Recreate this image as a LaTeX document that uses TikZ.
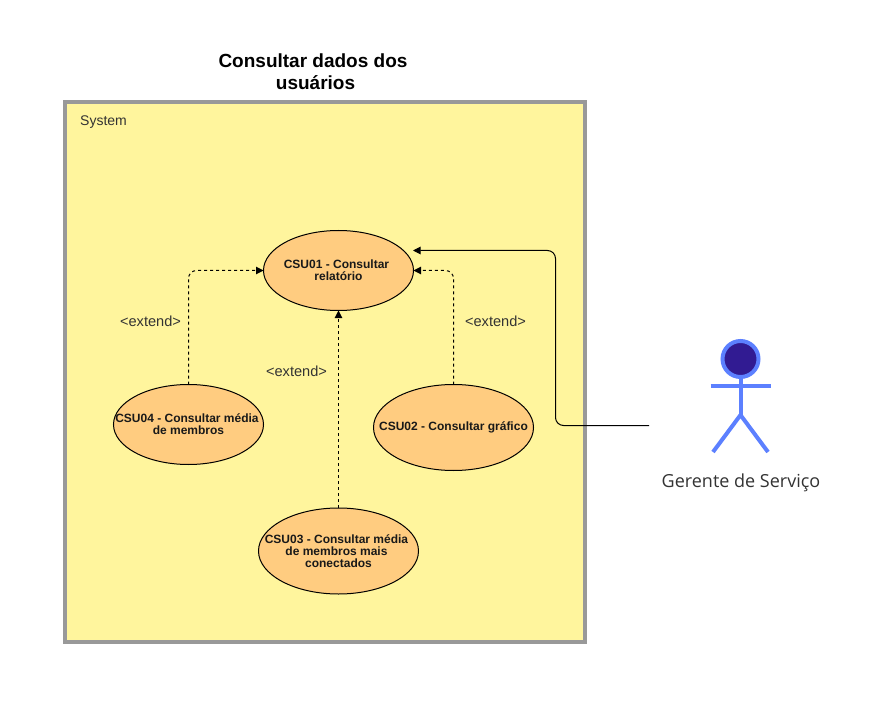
\documentclass[tikz,border=0pt]{standalone}
\usepackage{fontspec}
\setmainfont{Liberation Sans}
\newfontfamily\actorfont{Open Sans}
\usetikzlibrary{arrows.meta,shapes.geometric}
\definecolor{boxgray}{HTML}{999999}
\definecolor{boxfill}{HTML}{FFF59D}
\definecolor{ucfill}{HTML}{FFCC80}
\definecolor{actorline}{HTML}{5C80FF}
\definecolor{actorhead}{HTML}{311B92}
\definecolor{txt}{HTML}{333333}
\newcommand{\trailgap}[1]{\hbox to #1{}}
\tikzset{
  ucase/.style={ellipse,draw=black,line width=1pt,fill=ucfill,inner sep=0pt,outer sep=0pt},
  uctext/.style={font=\fontsize{12}{12}\selectfont\bfseries,align=center,text=black!90,inner sep=0pt},
  extlabel/.style={font=\fontsize{14.6}{14.6}\selectfont,text=txt,inner sep=0pt},
  extendline/.style={draw=black,line width=1pt,dash pattern=on 3pt off 3pt,rounded corners=8pt,-{Triangle[length=7.5pt,width=7.5pt]}},
  assocline/.style={draw=black,line width=1pt,rounded corners=8pt,-{Triangle[length=7.5pt,width=7.5pt]}},
  actorstroke/.style={draw=actorline,line width=4pt},
}
\begin{document}
\begin{tikzpicture}[x=1pt,y=-1pt]
\useasboundingbox (0,0) rectangle (886,703);
\fill[white] (0,0) rectangle (886,703);
\node[draw=boxgray,line width=4pt,fill=boxfill,minimum width=520pt,minimum height=540pt,inner sep=0pt,outer sep=0pt] (sys) at (325,372) {};
\node[font=\fontsize{19}{22}\selectfont\bfseries,align=center,text=black,inner sep=0pt] (title) at (315.5,72) {Consultar dados dos\trailgap{5pt}\\usuários};
\node[font=\fontsize{14}{14}\selectfont,text=txt,inner sep=0pt,anchor=base west] (systext) at (80,126) {System};
\node[ucase,minimum width=150pt,minimum height=80pt,label={[uctext]center:CSU01 - Consultar\trailgap{4pt}\\relatório}] (u1) at (338.5,270.5) {};
\node[ucase,minimum width=150pt,minimum height=80pt,label={[uctext]center:CSU04 - Consultar média\trailgap{3pt}\\de membros}] (u4) at (188.5,424.5) {};
\node[ucase,minimum width=160pt,minimum height=86pt,label={[uctext]center:CSU02 - Consultar gráfico}] (u2) at (453.5,427.5) {};
\node[ucase,minimum width=160pt,minimum height=86pt,label={[uctext]center:CSU03 - Consultar média\trailgap{4pt}\\de membros mais\trailgap{4pt}\\conectados}] (u3) at (338.5,551) {};
\draw[extendline] (u4.north) |- (u1.west);
\draw[extendline] (u2.north) |- (u1.east);
\draw[extendline] (u3.north) -- (u1.south);
\node[extlabel] (e4) at (150.5,321) {<extend>};
\node[extlabel] (e3) at (296.5,371) {<extend>};
\node[extlabel] (e2) at (495.5,321) {<extend>};
% actor
\node[circle,draw=actorline,line width=4pt,fill=actorhead,minimum size=36pt,inner sep=0pt,outer sep=2pt] (head) at (740.5,359) {};
\coordinate (hip) at (740.5,415);
\coordinate (armL) at (710.5,386);
\coordinate (armR) at (770.5,386);
\coordinate (legL) at (713,452);
\coordinate (legR) at (768,452);
\draw[actorstroke] (head.south) -- (hip);
\draw[actorstroke] (armL) -- (armR);
\draw[actorstroke] (legL) -- (hip) -- (legR);
\node[font=\fontsize{18}{18}\selectfont\actorfont,text=txt,inner sep=0pt,anchor=base] (actorname) at (741,487) {Gerente de Serviço};
\coordinate (actorport) at (649,425.5);
\coordinate (turnA) at (555.5,425.5);
\coordinate (turnB) at (555.5,250.5);
\coordinate (target) at (413,250.5);
\draw[assocline] (actorport) -- (turnA) -- (turnB) -- (target);
\end{tikzpicture}
\end{document}
